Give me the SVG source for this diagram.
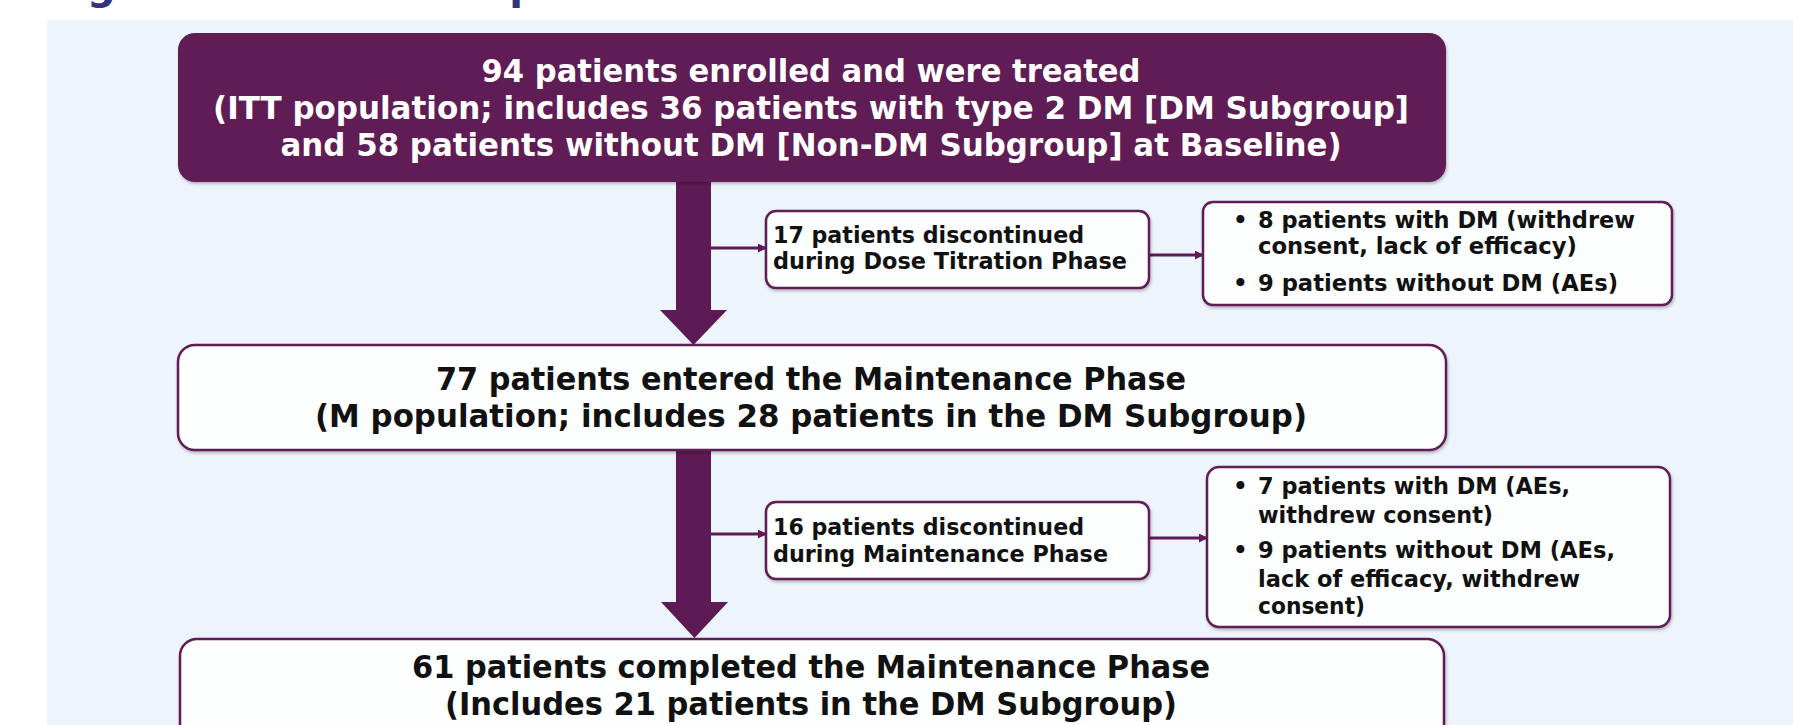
<svg xmlns="http://www.w3.org/2000/svg" width="1793" height="725" viewBox="0 0 1793 725">
  <defs>
    <style>
      .t { font-family: "DejaVu Sans", "Liberation Sans", sans-serif; font-weight: bold; }
      .main { font-size: 32px; text-anchor: middle; }
      .side { font-size: 23px; fill: #111; }
      .light { fill: #ffffff; }
      .dark { fill: #111111; }
      .box { fill: #fdfefe; stroke: #5e1a54; stroke-width: 2.5; }
      .conn { stroke: #5e1a54; stroke-width: 3; fill: none; }
    </style>
    <marker id="head" viewBox="0 0 10 10" refX="9" refY="5" markerWidth="3" markerHeight="3" orient="auto" markerUnits="strokeWidth">
      <path d="M0,0 L10,5 L0,10 z" fill="#5e1a54"/>
    </marker>
    <filter id="shadow" x="-5%" y="-10%" width="110%" height="130%">
      <feDropShadow dx="1" dy="2" stdDeviation="1.5" flood-color="#000" flood-opacity="0.25"/>
    </filter>
  </defs>

  <!-- page and panel background -->
  <rect x="0" y="0" width="1793" height="725" fill="#ffffff"/>
  <rect x="47" y="20" width="1746" height="705" fill="#edf4fb"/>

  <!-- heading, mostly above the visible area -->
  <text class="t" x="46" y="-1" font-size="40" fill="#33337f">Figure 1. Patient Disposition</text>

  <!-- connectors -->
  <g id="connectors">
    <polygon points="676,180 711,180 711,310 727,310 693.5,345 660,310 676,310" fill="#5e1a54"/>
    <polygon points="676,450 711,450 711,602 728,602 694.5,638 661,602 676,602" fill="#5e1a54"/>
    <line class="conn" x1="711" y1="248" x2="766" y2="248" marker-end="url(#head)"/>
    <line class="conn" x1="1149" y1="255" x2="1203" y2="255" marker-end="url(#head)"/>
    <line class="conn" x1="711" y1="534" x2="766" y2="534" marker-end="url(#head)"/>
    <line class="conn" x1="1149" y1="538" x2="1207" y2="538" marker-end="url(#head)"/>
  </g>

  <!-- enrolled population -->
  <g id="enrolled">
    <rect x="178" y="33" width="1268" height="149" rx="17" fill="#5e1a54" filter="url(#shadow)"/>
    <text class="t main light" x="811" y="82" textLength="659" lengthAdjust="spacingAndGlyphs">94 patients enrolled and were treated</text>
    <text class="t main light" x="811" y="119" textLength="1196" lengthAdjust="spacingAndGlyphs">(ITT population; includes 36 patients with type 2 DM [DM Subgroup]</text>
    <text class="t main light" x="811" y="156" textLength="1061" lengthAdjust="spacingAndGlyphs">and 58 patients without DM [Non-DM Subgroup] at Baseline)</text>
  </g>

  <!-- titration discontinuations -->
  <g id="titration-dc">
    <rect class="box" x="766" y="211" width="383" height="77" rx="10" filter="url(#shadow)"/>
    <text class="t side" x="773" y="243" textLength="311" lengthAdjust="spacingAndGlyphs">17 patients discontinued</text>
    <text class="t side" x="773" y="269" textLength="354" lengthAdjust="spacingAndGlyphs">during Dose Titration Phase</text>
  </g>

  <g id="titration-reasons">
    <rect class="box" x="1203" y="202" width="469" height="103" rx="10" filter="url(#shadow)"/>
    <text class="t side" x="1233" y="228">•</text>
    <text class="t side" x="1258" y="228" textLength="377" lengthAdjust="spacingAndGlyphs">8 patients with DM (withdrew</text>
    <text class="t side" x="1258" y="254" textLength="319" lengthAdjust="spacingAndGlyphs">consent, lack of efficacy)</text>
    <text class="t side" x="1233" y="291">•</text>
    <text class="t side" x="1258" y="291" textLength="360" lengthAdjust="spacingAndGlyphs">9 patients without DM (AEs)</text>
  </g>

  <!-- maintenance population -->
  <g id="maintenance">
    <rect class="box" x="178" y="345" width="1268" height="105" rx="17" filter="url(#shadow)"/>
    <text class="t main dark" x="811" y="390" textLength="750" lengthAdjust="spacingAndGlyphs">77 patients entered the Maintenance Phase</text>
    <text class="t main dark" x="811" y="427" textLength="992" lengthAdjust="spacingAndGlyphs">(M population; includes 28 patients in the DM Subgroup)</text>
  </g>

  <!-- maintenance discontinuations -->
  <g id="maintenance-dc">
    <rect class="box" x="766" y="502" width="383" height="77" rx="10" filter="url(#shadow)"/>
    <text class="t side" x="773" y="535" textLength="311" lengthAdjust="spacingAndGlyphs">16 patients discontinued</text>
    <text class="t side" x="773" y="562" textLength="335" lengthAdjust="spacingAndGlyphs">during Maintenance Phase</text>
  </g>

  <g id="maintenance-reasons">
    <rect class="box" x="1207" y="467" width="463" height="160" rx="12" filter="url(#shadow)"/>
    <text class="t side" x="1233" y="494">•</text>
    <text class="t side" x="1258" y="494" textLength="312" lengthAdjust="spacingAndGlyphs">7 patients with DM (AEs,</text>
    <text class="t side" x="1258" y="523" textLength="235" lengthAdjust="spacingAndGlyphs">withdrew consent)</text>
    <text class="t side" x="1233" y="558">•</text>
    <text class="t side" x="1258" y="558" textLength="357" lengthAdjust="spacingAndGlyphs">9 patients without DM (AEs,</text>
    <text class="t side" x="1258" y="587" textLength="322" lengthAdjust="spacingAndGlyphs">lack of efficacy, withdrew</text>
    <text class="t side" x="1258" y="614" textLength="107" lengthAdjust="spacingAndGlyphs">consent)</text>
  </g>

  <!-- completers -->
  <g id="completed">
    <rect class="box" x="180" y="639" width="1264" height="110" rx="17" filter="url(#shadow)"/>
    <text class="t main dark" x="811" y="678" textLength="798" lengthAdjust="spacingAndGlyphs">61 patients completed the Maintenance Phase</text>
    <text class="t main dark" x="811" y="715" textLength="732" lengthAdjust="spacingAndGlyphs">(Includes 21 patients in the DM Subgroup)</text>
  </g>
</svg>
